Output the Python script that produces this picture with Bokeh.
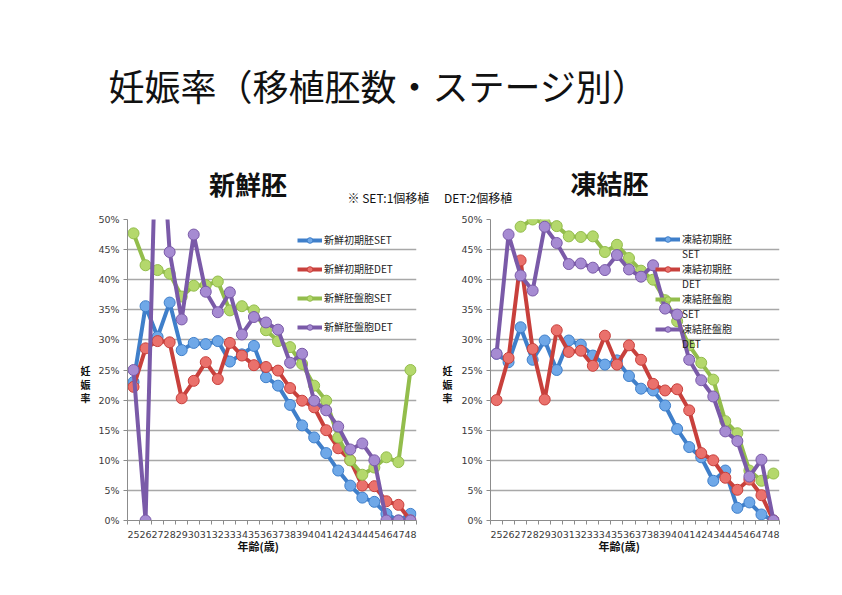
import math
from bokeh.plotting import figure
from bokeh.models import (Range1d, FixedTicker, NumeralTickFormatter, Label,
                          Legend, LegendItem, Title)
from bokeh.layouts import column, row
from bokeh.embed import file_html
from bokeh.resources import INLINE

NaN = float("nan")

# ---- data (percent) ----
ages = list(range(25, 49))
age_labels = [str(a) for a in ages]

fresh_cleavage_set = [23.0, 35.6, 30.5, 36.2, 28.3, 29.5, 29.3, 29.8, 26.4, 27.6, 29.0, 23.8,
                      22.4, 19.2, 15.8, 13.8, 11.2, 8.3, 5.8, 3.8, 3.1, 1.1, 0.0, 1.1]
fresh_cleavage_det = [22.2, 28.6, 29.8, 29.6, 20.3, 23.2, 26.3, 23.5, 29.5, 27.4, 25.8, 25.5,
                      24.9, 22.0, 19.9, 18.8, 15.0, 12.0, 10.0, 5.8, 5.7, 3.2, 2.6, 0.0]
fresh_blast_set = [47.7, 42.4, 41.6, 41.0, 37.2, 39.0, 39.1, 39.7, 34.9, 35.6, 34.9, 31.6,
                   29.8, 28.8, 26.0, 22.4, 19.9, 13.8, 10.0, 7.6, 8.8, 10.5, 9.7, 25.0]
fresh_blast_det = [25.0, 0.0, 75.0, 44.6, 33.4, 47.5, 38.0, 34.6, 37.9, 30.9, 33.8, 32.9,
                   31.7, 26.2, 27.7, 19.9, 18.3, 15.6, 11.8, 12.8, 10.0, 0.0, 0.0, 0.0]

frozen_cleavage_set = [27.7, 26.3, 32.1, 26.7, 29.9, 25.0, 29.9, 29.2, 27.4, 25.9, 26.6, 24.0,
                       21.9, 21.6, 19.1, 15.2, 12.2, 10.5, 6.6, 8.3, 2.1, 3.0, 1.0, 0.0]
frozen_cleavage_det = [20.0, 27.0, 43.2, 28.5, 20.1, 31.6, 28.0, 28.2, 25.7, 30.7, 25.9, 29.1,
                       26.7, 22.7, 21.6, 21.8, 18.3, 11.2, 10.0, 7.1, 5.1, 6.8, 4.2, 0.0]
frozen_blast_set = [NaN, NaN, 48.8, 50.0, 49.5, 48.9, 47.2, 47.1, 47.2, 44.6, 45.8, 43.6,
                    41.5, 40.0, 36.6, 33.1, 29.1, 26.2, 23.4, 16.5, 14.5, 8.3, 6.6, 7.8]
frozen_blast_det = [27.7, 47.5, 40.7, 38.2, 48.8, 46.1, 42.6, 42.7, 42.0, 41.6, 44.1, 41.7,
                    40.5, 42.4, 35.2, 34.2, 26.7, 23.3, 20.6, 14.8, 13.2, 7.3, 10.1, 0.0]

fresh_names = ["新鮮初期胚SET", "新鮮初期胚DET", "新鮮胚盤胞SET", "新鮮胚盤胞DET"]
frozen_names = [("凍結初期胚", "SET"), ("凍結初期胚", "DET"), ("凍結胚盤胞", "SET"), ("凍結胚盤胞", "DET")]
y_ticks = [0, 0.05, 0.10, 0.15, 0.20, 0.25, 0.30, 0.35, 0.40, 0.45, 0.50]
y_label_chars = ["妊", "娠", "率"]

line_colors = ["#3f7fca", "#c8403c", "#93bd4c", "#7a5aa8"]
fill_colors = ["#6fa8e8", "#ea716c", "#b4d86c", "#a68bd2"]

CJK = "Noto Sans CJK JP"
NUM = "DejaVu Sans"
ROW_H = 379


def make_chart(series, width, border_left, legend_loc, legend_names, two_line, xlab_offset):
    p = figure(width=width, height=ROW_H, x_range=Range1d(24.5, 48.5), y_range=Range1d(0, 0.5),
               output_backend="svg", toolbar_location=None,
               min_border_left=border_left, min_border_right=width - border_left - 289,
               min_border_top=11, min_border_bottom=67)
    p.outline_line_color = None
    p.xgrid.visible = False
    p.ygrid.grid_line_color = "#a8a8a8"
    p.ygrid.grid_line_width = 1.3
    p.ygrid.ticker = FixedTicker(ticks=y_ticks)

    p.xaxis.ticker = FixedTicker(ticks=ages, minor_ticks=[a - 0.5 for a in ages] + [48.5])
    p.xaxis.major_label_overrides = {a: s for a, s in zip(ages, age_labels)}
    p.xaxis.major_tick_line_color = None
    p.xaxis.minor_tick_line_color = "#8c8c8c"
    p.xaxis.minor_tick_out = 4
    p.xaxis.minor_tick_in = 0
    p.xaxis.major_tick_out = 4
    p.xaxis.major_label_standoff = 6
    p.xaxis.major_label_text_font = NUM
    p.xaxis.major_label_text_font_size = "9.5px"
    p.xaxis.major_label_text_color = "#3a3a3a"
    p.xaxis.axis_line_color = "#8c8c8c"

    p.yaxis.ticker = FixedTicker(ticks=y_ticks)
    p.yaxis.formatter = NumeralTickFormatter(format="0%")
    p.yaxis.major_tick_line_color = "#8c8c8c"
    p.yaxis.major_tick_out = 4
    p.yaxis.major_tick_in = 0
    p.yaxis.minor_tick_line_color = None
    p.yaxis.major_label_standoff = 4
    p.yaxis.major_label_text_font = NUM
    p.yaxis.major_label_text_font_size = "9.5px"
    p.yaxis.major_label_text_color = "#3a3a3a"
    p.yaxis.axis_line_color = "#8c8c8c"

    items = []
    for i, vals in enumerate(series):
        ys = [v / 100 for v in vals]
        lr = p.line(ages, ys, line_color=line_colors[i], line_width=4, line_join="round")
        sr = p.scatter(ages, ys, size=11, marker="circle", fill_color=fill_colors[i],
                       line_color=line_colors[i], line_width=1)
        if two_line:
            items.append(LegendItem(label=legend_names[i][0], renderers=[lr, sr]))
            dummy = p.line([NaN], [NaN], line_alpha=0)
            items.append(LegendItem(label=legend_names[i][1], renderers=[dummy]))
        else:
            items.append(LegendItem(label=legend_names[i], renderers=[lr, sr]))

    leg = Legend(items=items, location=legend_loc, border_line_color=None,
                 background_fill_alpha=0, padding=0, margin=0,
                 glyph_width=25, label_standoff=2,
                 label_text_font=CJK, label_text_font_size="10px",
                 label_text_color="#222222")
    leg.glyph_height = 14
    leg.label_height = 14
    leg.spacing = 0 if two_line else 14
    p.add_layout(leg)

    p.add_layout(Title(text="年齢(歳)", align="left", offset=xlab_offset, standoff=-10,
                       text_font=CJK, text_font_size="11px", text_font_style="bold",
                       text_color="#111111"), "below")
    return p


def ylabel_strip(width, x_local):
    # the row aligns this strip's frame with the charts' frames (page y 219..520),
    # so the y range is expressed as negative page pixels
    s = figure(width=width, height=ROW_H, x_range=Range1d(0, width), y_range=Range1d(-520, -219),
               output_backend="svg", toolbar_location=None, min_border=0,
               x_axis_type=None, y_axis_type=None)
    s.outline_line_color = None
    for k, ch in enumerate(y_label_chars):
        s.add_layout(Label(x=x_local, y=-(370 + 13.5 * k), text=ch, text_font=CJK,
                           text_font_size="10px", text_font_style="bold", text_align="center",
                           text_baseline="middle", text_color="#111111"))
    return s


left = make_chart([fresh_cleavage_set, fresh_cleavage_det, fresh_blast_set, fresh_blast_det],
                  338, 35, (170, 186), fresh_names, False, 110)
right = make_chart([frozen_cleavage_set, frozen_cleavage_det, frozen_blast_set, frozen_blast_det],
                   378, 34, (165, 169), frozen_names, True, 108)
strip_l = ylabel_strip(92, 85)
strip_r = ylabel_strip(26, 17)

head = figure(width=834, height=208, x_range=Range1d(0, 834), y_range=Range1d(0, 208),
              output_backend="svg", toolbar_location=None, min_border=0,
              x_axis_type=None, y_axis_type=None)
head.outline_line_color = None
head.add_layout(Label(x=108, y=124, text="妊娠率（移植胚数・ステージ別）", text_font=CJK,
                      text_font_size="36px", text_align="left", text_baseline="middle",
                      text_color="#111111"))
head.add_layout(Label(x=247.5, y=25, text="新鮮胚", text_font=CJK, text_font_size="26px",
                      text_font_style="bold", text_align="center", text_baseline="middle",
                      text_color="#111111"))
head.add_layout(Label(x=609, y=26, text="凍結胚", text_font=CJK, text_font_size="26px",
                      text_font_style="bold", text_align="center", text_baseline="middle",
                      text_color="#111111"))
head.add_layout(Label(x=347, y=11, text="※ SET:1個移植　    DET:2個移植", text_font=CJK,
                      text_font_size="12px", text_align="left", text_baseline="middle",
                      text_color="#111111"))

layout = column(head, row(strip_l, left, strip_r, right))
open("out.html", "w").write(file_html(layout, INLINE))
